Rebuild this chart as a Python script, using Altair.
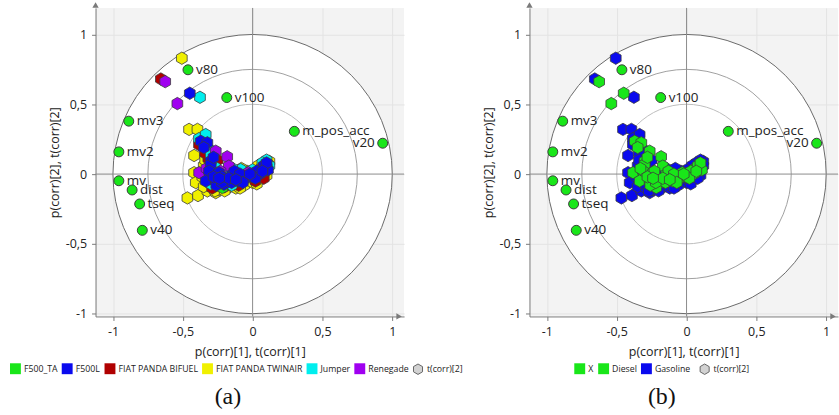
import math
import altair as alt
import pandas as pd

# ---------------- data ----------------
var_names = ["v80", "v100", "mv3", "m_pos_acc", "v20", "mv2", "mv", "dist", "tseq", "v40"]
var_x = [-0.463, -0.185, -0.887, 0.299, 0.932, -0.958, -0.958, -0.863, -0.809, -0.790]
var_y = [0.747, 0.548, 0.379, 0.306, 0.221, 0.159, -0.048, -0.114, -0.214, -0.403]
var_side = ["r", "r", "r", "r", "l", "r", "r", "r", "r", "r"]

obs_x = [-0.507, -0.657, -0.626, -0.539, -0.450, -0.377, -0.455, -0.395, -0.467, -0.391,
         -0.384, -0.336, -0.384, -0.371, -0.324, -0.312, -0.264, -0.419, -0.300, -0.317,
         -0.182, -0.300, -0.300, -0.340, -0.350, -0.280, -0.383, -0.419, -0.312, -0.241,
         -0.170, -0.146, -0.063, 0.021, -0.086, -0.146, -0.336, -0.264, -0.205, -0.407,
         -0.324, -0.264, -0.217, -0.360, -0.350, -0.290, -0.330, -0.270,
         -0.200, -0.150, -0.100, -0.120, -0.050, 0.000, 0.050, 0.080, 0.100,
         -0.180, -0.120, -0.060, 0.000, 0.050, 0.100, -0.200, -0.100, 0.020, 0.110,
         0.120, 0.100, 0.070, 0.040, 0.000, -0.040, -0.080, -0.030, 0.060, 0.120,
         -0.130, -0.220, 0.080, 0.030, -0.090, 0.110, -0.240, -0.300, -0.250, -0.230,
         -0.150, 0.100,
         -0.260, -0.220, -0.170, -0.070, 0.020, 0.070, -0.280, -0.310, -0.270, -0.200,
         -0.090, 0.030, 0.080, -0.160, -0.350, -0.340, -0.240, -0.120, -0.020]
obs_y = [0.830, 0.681, 0.662, 0.505, 0.579, 0.550, 0.320, 0.320, -0.171, -0.154,
         0.254, 0.283, 0.211, 0.235, 0.224, 0.176, 0.164, 0.133, 0.140, 0.110,
         0.124, 0.093, 0.069, 0.150, 0.190, 0.120, 0.010, 0.010, 0.021, 0.010,
         0.057, -0.002, -0.038, -0.014, 0.033, 0.040, -0.050, -0.050, -0.073, -0.061,
         -0.121, -0.133, -0.097, -0.020, -0.090, -0.100, 0.040, 0.050,
         -0.040, -0.060, -0.050, -0.020, -0.030, -0.020, 0.000, 0.020, 0.050,
         -0.100, -0.100, -0.080, -0.060, -0.040, -0.010, -0.090, -0.080, -0.050, 0.070,
         0.090, 0.100, 0.080, 0.060, 0.030, 0.020, 0.040, 0.010, 0.040, 0.060,
         0.020, -0.020, 0.060, 0.020, 0.000, 0.030, -0.110, -0.070, 0.100, 0.020,
         -0.080, 0.080,
         -0.080, -0.060, -0.030, -0.060, -0.030, 0.020, -0.020, 0.050, -0.120, -0.120,
         -0.100, -0.070, -0.030, 0.000, 0.060, 0.100, -0.030, -0.040, 0.000]
obs_model = ["TW", "BI", "R", "R", "L", "J", "TW", "TW", "TW", "TW",
             "J", "J", "BI", "L", "L", "J", "R", "TW", "J", "BI",
             "R", "L", "L", "BI", "L", "L", "R", "TW", "L", "L",
             "R", "L", "L", "L", "J", "J", "L", "L", "L", "TW",
             "TW", "TW", "TA", "TW", "TW", "BI", "R", "J",
             "L", "L", "L", "L", "L", "L", "L", "L", "L",
             "TW", "TW", "TW", "TW", "TW", "TW", "BI", "BI", "BI", "BI",
             "TW", "J", "J", "TW", "J", "TW", "TW", "R", "R", "J",
             "L", "L", "L", "L", "L", "L", "TW", "J", "BI", "R",
             "J", "L",
             "L", "L", "L", "L", "L", "L", "L", "J", "TW", "TW",
             "TW", "TW", "BI", "J", "TW", "TW", "L", "L", "L"]

model_codes = ["TA", "L", "BI", "TW", "J", "R"]
model_names = ["F500_TA", "F500L", "FIAT PANDA BIFUEL", "FIAT PANDA TWINAIR", "Jumper", "Renegade"]
model_colors = ["#19e619", "#0a0aee", "#b00000", "#f0f000", "#00eeee", "#a000f0"]
model_draw = ["TW", "BI", "J", "R", "TA", "L"]
model_fuel = {"TA": "Diesel", "L": "Diesel", "BI": "Gasoline", "TW": "Gasoline",
              "J": "Gasoline", "R": "Diesel"}

fuel_names = ["X", "Diesel", "Gasoline"]
fuel_colors = ["#19e619", "#19e619", "#0a0aee"]
fuel_draw = ["Gasoline", "Diesel", "X"]

HEX = "M0,-1L0.866,-0.5L0.866,0.5L0,1L-0.866,0.5L-0.866,-0.5Z"
FONT = "Open Sans"

# ---------------- layout ----------------
XD = [-1.125, 1.085]
YD = [-1.02, 1.19]
W = 310
H = 310
S = W / (XD[1] - XD[0])  # pixels per unit

name_of = dict(zip(model_codes, model_names))
obs = pd.DataFrame({"x": obs_x, "y": obs_y, "code": obs_model})
obs["model"] = obs["code"].map(name_of)
obs["fuel"] = obs["code"].map(model_fuel)
obs["kind"] = "t(corr)[2]"

vars_df = pd.DataFrame({"x": var_x, "y": var_y, "name": var_names, "side": var_side})
one = pd.DataFrame({"a": [0]})

quarters = [-1, -0.75, -0.5, -0.25, 0, 0.25, 0.5, 0.75, 1]
label_expr = ("abs(datum.value*2 - round(datum.value*2)) < 0.001 ? "
              "replace(replace(format(datum.value, '~g'), '.', ','), '\u2212', '-') : ''")
is_minor = "abs(datum.value*2 - round(datum.value*2)) > 0.001"


def axis(title, orient):
    return alt.Axis(
        title=title, orient=orient, values=quarters, labelExpr=label_expr,
        tickSize={"condition": {"test": is_minor, "value": 2}, "value": 4},
        gridOpacity={"condition": {"test": is_minor, "value": 0}, "value": 1},
        gridColor="#e3e3e3", domainColor="#7a7a7a", tickColor="#7a7a7a",
        labelFont=FONT, labelFontSize=12.5, labelColor="#222222", labelPadding=5,
        titleFont=FONT, titleFontSize=12.5, titleFontWeight="normal", titleColor="#222222",
        titlePadding=8 if orient == "bottom" else 4, labelFlush=False, labelOverlap=False,
    )


def panel(cat_field, domain, colors, draw, leg_x, hex_x, caption):
    d = obs.copy()
    d["ord"] = d[cat_field].map({c: i for i, c in enumerate(draw)})
    d = d.sort_values("ord", kind="stable")

    xs = alt.Scale(domain=XD, nice=False, zero=False)
    ys = alt.Scale(domain=YD, nice=False, zero=False)
    X = alt.X("x:Q", scale=xs, axis=axis("p(corr)[1], t(corr)[1]", "bottom"))
    Y = alt.Y("y:Q", scale=ys, axis=axis("p(corr)[2], t(corr)[2]", "left"))

    disc = alt.Chart(one).mark_arc(radius=S, theta=0, theta2=2 * math.pi, fill="white",
                                   stroke="#6a6a6a", strokeWidth=1).encode(
        x=alt.X("a:Q", scale=xs, axis=axis("p(corr)[1], t(corr)[1]", "bottom")),
        y=alt.Y("a:Q", scale=ys, axis=axis("p(corr)[2], t(corr)[2]", "left")))
    ring75 = alt.Chart(one).mark_arc(radius=0.75 * S, theta=0, theta2=2 * math.pi, fillOpacity=0,
                                     stroke="#a0a0a0", strokeWidth=1).encode(
        x=alt.X("a:Q", scale=xs), y=alt.Y("a:Q", scale=ys))
    ring50 = alt.Chart(one).mark_arc(radius=0.5 * S, theta=0, theta2=2 * math.pi, fillOpacity=0,
                                     stroke="#bdbdbd", strokeWidth=1).encode(
        x=alt.X("a:Q", scale=xs), y=alt.Y("a:Q", scale=ys))
    vline = alt.Chart(one).mark_rule(color="#8c8c8c", strokeWidth=1).encode(x=alt.X("a:Q", scale=xs))
    hline = alt.Chart(one).mark_rule(color="#8c8c8c", strokeWidth=1).encode(y=alt.Y("a:Q", scale=ys))

    pts = alt.Chart(d).mark_point(filled=True, size=155, opacity=1, stroke="#3c3c3c",
                                  strokeWidth=0.8).encode(
        x=X, y=Y,
        color=alt.Color(f"{cat_field}:N", scale=alt.Scale(domain=domain, range=colors),
                        legend=alt.Legend(title=None, orient="none", legendX=leg_x, legendY=357,
                                          direction="horizontal", columns=len(domain),
                                          symbolType="square", symbolSize=120,
                                          symbolStrokeWidth=0, symbolOpacity=1,
                                          labelFont=FONT, labelFontSize=8.8, labelColor="#222222",
                                          labelOffset=3, columnPadding=4)),
        shape=alt.Shape("kind:N", scale=alt.Scale(domain=["t(corr)[2]"], range=[HEX]),
                        legend=alt.Legend(title=None, orient="none", legendX=hex_x, legendY=357,
                                          symbolSize=110, symbolFillColor="#d2d2d2",
                                          symbolStrokeColor="#666666", symbolStrokeWidth=1,
                                          labelFont=FONT, labelFontSize=8.8, labelColor="#222222",
                                          labelOffset=3)),
    )

    vpts = alt.Chart(vars_df).mark_circle(size=100, opacity=1, color="#19e619",
                                          stroke="#3c3c3c", strokeWidth=1).encode(x=X, y=Y)
    lab_r = alt.Chart(vars_df).transform_filter("datum.side == 'r'").mark_text(
        align="left", baseline="middle", dx=8, font=FONT, fontSize=13.5, color="#222222"
    ).encode(x=X, y=Y, text="name:N")
    lab_l = alt.Chart(vars_df).transform_filter("datum.side == 'l'").mark_text(
        align="right", baseline="middle", dx=-8, font=FONT, fontSize=13.5, color="#222222"
    ).encode(x=X, y=Y, text="name:N")

    up = alt.Chart(one).mark_point(shape="triangle-up", filled=True, size=40, opacity=1,
                                   color="#7a7a7a").encode(x=alt.value(0), y=alt.value(-3))
    right = alt.Chart(one).mark_point(shape="triangle-right", filled=True, size=40, opacity=1,
                                      color="#7a7a7a").encode(x=alt.value(W - 5), y=alt.value(H))

    return alt.layer(disc, ring75, ring50, vline, hline, pts, vpts, lab_r, lab_l, up, right).properties(
        width=W, height=H,
        title=alt.TitleParams(caption, orient="bottom", anchor="middle", font="Liberation Serif",
                              fontSize=24, fontWeight="normal", color="#111111", offset=8, dx=-22),
    ).resolve_scale(color="independent", shape="independent")


pa = panel("model", model_names, model_colors, [name_of[c] for c in model_draw], -86, 318, "(a)")
pb = panel("fuel", fuel_names, fuel_colors, fuel_draw, 45, 170, "(b)")

chart = alt.hconcat(pa, pb, spacing=126, bounds="flush").properties(
    padding={"left": 10, "top": 1, "right": 0, "bottom": 0}
).configure_view(fill="#f3f3f3", stroke=None)

chart.save("out.html", embed_options={"renderer": "svg", "actions": False})
